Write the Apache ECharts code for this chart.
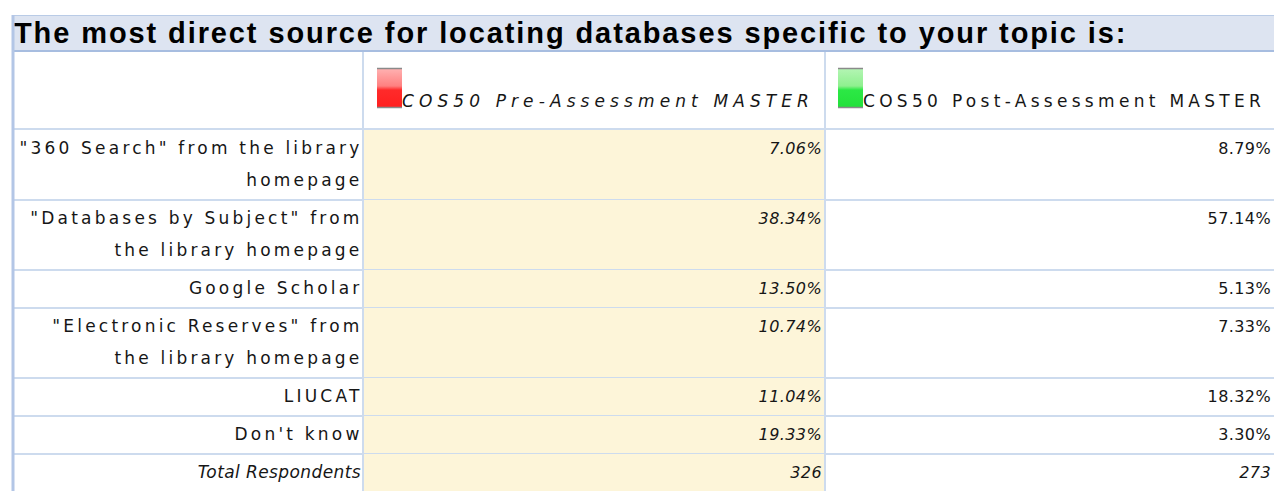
<!DOCTYPE html>
<html><head><meta charset="utf-8">
<script src="https://cdn.jsdelivr.net/npm/echarts@6/dist/echarts.min.js"></script>
<style>
html,body{margin:0;padding:0;background:#fff;}
#chart{width:1278px;height:491px;}
/* tracking of the original bitmap font, per text class */
#chart text[style*="DejaVu"]{letter-spacing:3.2px;}
#chart text[style*="xita"]{letter-spacing:0.4px;}
#chart text[style*="xnum"]{letter-spacing:0.4px;}
#chart text[style*="xhdi"]{letter-spacing:5.1px;}
#chart text[style*="xhdr"]{letter-spacing:4.3px;}
#chart text[style*="Liberation"]{letter-spacing:1.9px;}
</style></head><body><div id="chart"></div>
<script>
// ---------- data ----------
const titleText = 'The most direct source for locating databases specific to your topic is:';
const seriesNames = ['COS50 Pre-Assessment MASTER', 'COS50 Post-Assessment MASTER'];
const categories = [
  '"360 Search" from the library\nhomepage',
  '"Databases by Subject" from\nthe library homepage',
  'Google Scholar',
  '"Electronic Reserves" from\nthe library homepage',
  'LIUCAT',
  "Don't know"
];
const preValues  = [7.06, 38.34, 13.50, 10.74, 11.04, 19.33];
const postValues = [8.79, 57.14, 5.13, 7.33, 18.32, 3.30];
const totalLabel = 'Total Respondents';
const totalRespondents = [326, 273];

// ---------- layout / style ----------
const L = { left: 12, right: 1274, col1: 363, col2: 825, bodyTop: 130, lineH: 32, pad: 6 };
const LINE = '#cddbee';
const PRE_BG = '#fdf5d9';
const TXT = '#161616';
const REG = 'DejaVu Sans';
const ITA = 'xita, DejaVu Sans';
const NUM = 'xnum, DejaVu Sans';
const HDI = 'xhdi, DejaVu Sans';
const HDR = 'xhdr, DejaVu Sans';

const rows = categories.map((c, i) => ({ label: c, pre: preValues[i].toFixed(2) + '%', post: postValues[i].toFixed(2) + '%', italic: false }));
rows.push({ label: totalLabel, pre: String(totalRespondents[0]), post: String(totalRespondents[1]), italic: true });
const rowLines = rows.map(r => r.label.split('\n').length);
const rowTop = [];
let acc = L.bodyTop;
rowLines.forEach((n, i) => { rowTop[i] = acc; acc += L.pad + L.lineH * n; });

function renderRow(params, api) {
  const i = params.dataIndex;
  const r = rows[i];
  const top = rowTop[i];
  const h = L.pad + L.lineH * rowLines[i];
  return {
    type: 'group',
    children: [
      { type: 'rect', shape: { x: L.col1 + 1, y: top, width: L.col2 - L.col1 - 1, height: h }, style: { fill: PRE_BG } },
      { type: 'line', shape: { x1: L.left, y1: top + h, x2: L.right, y2: top + h }, style: { stroke: LINE, lineWidth: 2 } },
      { type: 'line', shape: { x1: L.col1, y1: top, x2: L.col1, y2: top + h }, style: { stroke: LINE, lineWidth: 2 } },
      { type: 'line', shape: { x1: L.col2, y1: top, x2: L.col2, y2: top + h }, style: { stroke: LINE, lineWidth: 2 } },
      { type: 'text', style: { text: r.label, x: r.italic ? L.col1 - 2 : L.col1 - 0.5, y: top + 2, align: 'right', verticalAlign: 'top', lineHeight: 32,
          fontSize: 17, fontFamily: r.italic ? ITA : REG, fontStyle: r.italic ? 'italic' : 'normal', fill: TXT } },
      { type: 'text', style: { text: r.pre, x: L.col2 - 3, y: top + 2, align: 'right', verticalAlign: 'top', lineHeight: 32,
          fontSize: 16, fontFamily: NUM, fontStyle: 'italic', fill: TXT } },
      { type: 'text', style: { text: r.post, x: L.right - 3, y: top + 2, align: 'right', verticalAlign: 'top', lineHeight: 32,
          fontSize: 16, fontFamily: NUM, fontStyle: r.italic ? 'italic' : 'normal', fill: TXT } }
    ]
  };
}

function swatch(x, top, bot, c1, c2) {
  return [
    { type: 'rect', shape: { x: x, y: 68, width: 25, height: 40 },
      style: { fill: { type: 'linear', x: 0, y: 0, x2: 0, y2: 1, colorStops: [
        { offset: 0, color: top }, { offset: 0.45, color: c1 }, { offset: 0.55, color: c2 }, { offset: 1, color: bot } ] } } },
    { type: 'line', shape: { x1: x, y1: 68.5, x2: x + 25, y2: 68.5 }, style: { stroke: '#8a8a8a', lineWidth: 1.5 } },
    { type: 'line', shape: { x1: x, y1: 107.5, x2: x + 25, y2: 107.5 }, style: { stroke: '#8a8a8a', lineWidth: 1.5 } }
  ];
}

const chart = echarts.init(document.getElementById('chart'), null, { renderer: 'svg' });
chart.setOption({
  animation: false,
  backgroundColor: '#ffffff',
  title: {
    text: titleText, left: 14, top: 18, padding: 0,
    textStyle: { fontFamily: 'Liberation Sans', fontWeight: 'bold', fontSize: 29, color: '#000', lineHeight: 30 }
  },
  graphic: [
    { type: 'rect', z: -10, shape: { x: L.left, y: 15, width: L.right - L.left, height: 37 }, style: { fill: '#dde4f1' } },
    { type: 'line', z: -9, shape: { x1: L.left, y1: 15.5, x2: L.right, y2: 15.5 }, style: { stroke: '#b9cbe6', lineWidth: 1 } },
    { type: 'line', z: -9, shape: { x1: L.left, y1: 51, x2: L.right, y2: 51 }, style: { stroke: '#a7bde0', lineWidth: 2 } },
    { type: 'line', z: -9, shape: { x1: L.col1, y1: 52, x2: L.col1, y2: L.bodyTop }, style: { stroke: LINE, lineWidth: 2 } },
    { type: 'line', z: -9, shape: { x1: L.col2, y1: 52, x2: L.col2, y2: L.bodyTop }, style: { stroke: LINE, lineWidth: 2 } },
    { type: 'line', z: -9, shape: { x1: L.left, y1: L.bodyTop - 1, x2: L.right, y2: L.bodyTop - 1 }, style: { stroke: LINE, lineWidth: 2 } },
    ...swatch(377, '#ffb3b3', '#ff1f1f', '#ff8080', '#ff2a2a'),
    ...swatch(838, '#b5f5b5', '#22e03a', '#8ff08f', '#2ce845'),
    { type: 'text', style: { text: seriesNames[0], x: 402, y: 101, verticalAlign: 'middle', fontSize: 17, fontFamily: HDI, fontStyle: 'italic', fill: TXT } },
    { type: 'text', style: { text: seriesNames[1], x: 863, y: 101, verticalAlign: 'middle', fontSize: 17, fontFamily: HDR, fill: TXT } },
    { type: 'line', z: 50, shape: { x1: 13, y1: 15, x2: 13, y2: 491 }, style: { stroke: '#b3c6e6', lineWidth: 3 } }
  ],
  xAxis: { show: false }, yAxis: { show: false },
  series: [{
    type: 'custom',
    coordinateSystem: 'none',
    renderItem: renderRow,
    data: rows.map((r, i) => i)
  }]
});
</script></body></html>
